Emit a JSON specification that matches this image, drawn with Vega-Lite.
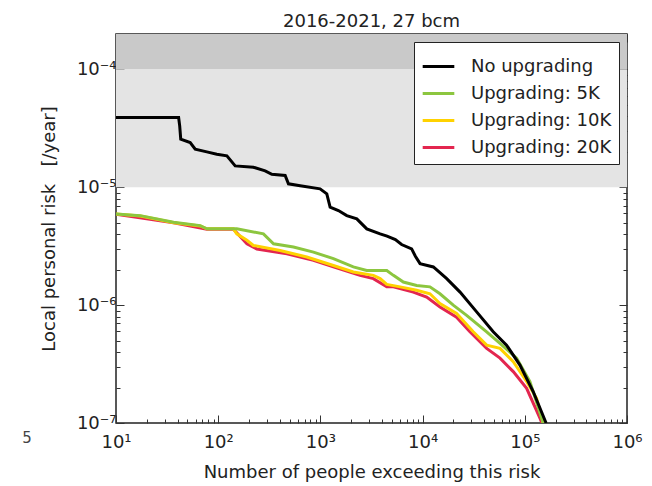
{
  "$schema": "https://vega.github.io/schema/vega-lite/v6.json",
  "width": 511,
  "height": 389,
  "autosize": {"type": "none"},
  "padding": {"left": 116, "top": 34, "right": 25, "bottom": 63},
  "background": "white",
  "title": {"text": "2016-2021, 27 bcm", "fontSize": 18, "font": "DejaVu Sans", "fontWeight": "normal", "color": "#222", "offset": -6, "anchor": "middle"},
  "config": {
    "view": {"stroke": "#222", "strokeWidth": 1.5},
    "font": "DejaVu Sans",
    "axis": {"domain": false, "grid": false, "labelFont": "DejaVu Sans", "labelFontSize": 18, "labelColor": "#222", "titleFont": "DejaVu Sans", "titleFontSize": 18, "titleFontWeight": "normal", "titleColor": "#222", "tickColor": "#333", "tickWidth": 1, "labelOverlap": false, "labelFlush": false, "labelBound": false},
    "legend": {"orient": "top-right", "offset": 8, "fillColor": "white", "strokeColor": "#222", "padding": 7, "symbolType": "stroke", "symbolStrokeWidth": 3, "symbolSize": 1000, "labelFont": "DejaVu Sans", "labelFontSize": 18, "labelColor": "#222", "rowPadding": -3, "labelOffset": 15}
  },
  "datasets": {
    "bands": [
      {"zone": "upper", "low": 1e-4, "high": 2e-4},
      {"zone": "tolerable", "low": 1e-5, "high": 1e-4}
    ],
    "stray": [
      {"label": "5", "people": 1.35, "risk": 7.4e-8}
    ],
    "curves": [
      {"series": "No upgrading", "people": 10, "risk": 3.91e-5},
      {"series": "No upgrading", "people": 41, "risk": 3.91e-5},
      {"series": "No upgrading", "people": 42, "risk": 3.32e-5},
      {"series": "No upgrading", "people": 43, "risk": 2.56e-5},
      {"series": "No upgrading", "people": 53.2, "risk": 2.4e-5},
      {"series": "No upgrading", "people": 59.6, "risk": 2.11e-5},
      {"series": "No upgrading", "people": 77.4, "risk": 2.0e-5},
      {"series": "No upgrading", "people": 97, "risk": 1.91e-5},
      {"series": "No upgrading", "people": 121.6, "risk": 1.85e-5},
      {"series": "No upgrading", "people": 146.6, "risk": 1.52e-5},
      {"series": "No upgrading", "people": 221, "risk": 1.48e-5},
      {"series": "No upgrading", "people": 288, "risk": 1.38e-5},
      {"series": "No upgrading", "people": 335, "risk": 1.29e-5},
      {"series": "No upgrading", "people": 452, "risk": 1.26e-5},
      {"series": "No upgrading", "people": 487, "risk": 1.07e-5},
      {"series": "No upgrading", "people": 634, "risk": 1.03e-5},
      {"series": "No upgrading", "people": 993, "risk": 9.7e-6},
      {"series": "No upgrading", "people": 1155, "risk": 8.8e-6},
      {"series": "No upgrading", "people": 1245, "risk": 6.8e-6},
      {"series": "No upgrading", "people": 1500, "risk": 6.35e-6},
      {"series": "No upgrading", "people": 1811, "risk": 5.75e-6},
      {"series": "No upgrading", "people": 2270, "risk": 5.4e-6},
      {"series": "No upgrading", "people": 2844, "risk": 4.44e-6},
      {"series": "No upgrading", "people": 3840, "risk": 4.03e-6},
      {"series": "No upgrading", "people": 4488, "risk": 3.85e-6},
      {"series": "No upgrading", "people": 5414, "risk": 3.6e-6},
      {"series": "No upgrading", "people": 6227, "risk": 3.27e-6},
      {"series": "No upgrading", "people": 7810, "risk": 3.0e-6},
      {"series": "No upgrading", "people": 8500, "risk": 2.6e-6},
      {"series": "No upgrading", "people": 9440, "risk": 2.25e-6},
      {"series": "No upgrading", "people": 12740, "risk": 2.11e-6},
      {"series": "No upgrading", "people": 17220, "risk": 1.68e-6},
      {"series": "No upgrading", "people": 23250, "risk": 1.29e-6},
      {"series": "No upgrading", "people": 33800, "risk": 8.77e-7},
      {"series": "No upgrading", "people": 49100, "risk": 5.94e-7},
      {"series": "No upgrading", "people": 66300, "risk": 4.58e-7},
      {"series": "No upgrading", "people": 89600, "risk": 3.1e-7},
      {"series": "No upgrading", "people": 120800, "risk": 1.85e-7},
      {"series": "No upgrading", "people": 161500, "risk": 1e-7},

      {"series": "Upgrading: 5K", "people": 10, "risk": 5.94e-6},
      {"series": "Upgrading: 5K", "people": 17.3, "risk": 5.75e-6},
      {"series": "Upgrading: 5K", "people": 25.1, "risk": 5.4e-6},
      {"series": "Upgrading: 5K", "people": 36.6, "risk": 5.06e-6},
      {"series": "Upgrading: 5K", "people": 66.7, "risk": 4.73e-6},
      {"series": "Upgrading: 5K", "people": 77.5, "risk": 4.44e-6},
      {"series": "Upgrading: 5K", "people": 152, "risk": 4.44e-6},
      {"series": "Upgrading: 5K", "people": 277, "risk": 4.03e-6},
      {"series": "Upgrading: 5K", "people": 348, "risk": 3.32e-6},
      {"series": "Upgrading: 5K", "people": 545, "risk": 3.11e-6},
      {"series": "Upgrading: 5K", "people": 855, "risk": 2.82e-6},
      {"series": "Upgrading: 5K", "people": 1340, "risk": 2.48e-6},
      {"series": "Upgrading: 5K", "people": 2100, "risk": 2.11e-6},
      {"series": "Upgrading: 5K", "people": 2840, "risk": 1.97e-6},
      {"series": "Upgrading: 5K", "people": 4460, "risk": 1.97e-6},
      {"series": "Upgrading: 5K", "people": 5180, "risk": 1.79e-6},
      {"series": "Upgrading: 5K", "people": 6480, "risk": 1.57e-6},
      {"series": "Upgrading: 5K", "people": 8750, "risk": 1.47e-6},
      {"series": "Upgrading: 5K", "people": 11800, "risk": 1.43e-6},
      {"series": "Upgrading: 5K", "people": 14790, "risk": 1.25e-6},
      {"series": "Upgrading: 5K", "people": 19950, "risk": 1.0e-6},
      {"series": "Upgrading: 5K", "people": 26970, "risk": 8.2e-7},
      {"series": "Upgrading: 5K", "people": 42350, "risk": 5.94e-7},
      {"series": "Upgrading: 5K", "people": 57200, "risk": 4.73e-7},
      {"series": "Upgrading: 5K", "people": 83200, "risk": 3.55e-7},
      {"series": "Upgrading: 5K", "people": 112200, "risk": 2.25e-7},
      {"series": "Upgrading: 5K", "people": 151400, "risk": 1e-7},

      {"series": "Upgrading: 10K", "people": 10, "risk": 5.94e-6},
      {"series": "Upgrading: 10K", "people": 17.3, "risk": 5.7e-6},
      {"series": "Upgrading: 10K", "people": 25.1, "risk": 5.35e-6},
      {"series": "Upgrading: 10K", "people": 36.6, "risk": 5.0e-6},
      {"series": "Upgrading: 10K", "people": 66.7, "risk": 4.7e-6},
      {"series": "Upgrading: 10K", "people": 77.5, "risk": 4.44e-6},
      {"series": "Upgrading: 10K", "people": 141, "risk": 4.44e-6},
      {"series": "Upgrading: 10K", "people": 152, "risk": 4.03e-6},
      {"series": "Upgrading: 10K", "people": 191, "risk": 3.55e-6},
      {"series": "Upgrading: 10K", "people": 221, "risk": 3.21e-6},
      {"series": "Upgrading: 10K", "people": 403, "risk": 2.91e-6},
      {"series": "Upgrading: 10K", "people": 736, "risk": 2.56e-6},
      {"series": "Upgrading: 10K", "people": 1340, "risk": 2.17e-6},
      {"series": "Upgrading: 10K", "people": 2100, "risk": 1.91e-6},
      {"series": "Upgrading: 10K", "people": 3300, "risk": 1.79e-6},
      {"series": "Upgrading: 10K", "people": 3840, "risk": 1.68e-6},
      {"series": "Upgrading: 10K", "people": 4460, "risk": 1.5e-6},
      {"series": "Upgrading: 10K", "people": 6030, "risk": 1.43e-6},
      {"series": "Upgrading: 10K", "people": 8750, "risk": 1.34e-6},
      {"series": "Upgrading: 10K", "people": 11800, "risk": 1.25e-6},
      {"series": "Upgrading: 10K", "people": 14790, "risk": 1.03e-6},
      {"series": "Upgrading: 10K", "people": 21500, "risk": 8.5e-7},
      {"series": "Upgrading: 10K", "people": 31300, "risk": 5.94e-7},
      {"series": "Upgrading: 10K", "people": 42350, "risk": 4.58e-7},
      {"series": "Upgrading: 10K", "people": 57200, "risk": 4.3e-7},
      {"series": "Upgrading: 10K", "people": 77100, "risk": 3.32e-7},
      {"series": "Upgrading: 10K", "people": 104200, "risk": 2.25e-7},
      {"series": "Upgrading: 10K", "people": 130400, "risk": 1.62e-7},
      {"series": "Upgrading: 10K", "people": 151400, "risk": 1e-7},

      {"series": "Upgrading: 20K", "people": 10, "risk": 5.9e-6},
      {"series": "Upgrading: 20K", "people": 36.6, "risk": 5.0e-6},
      {"series": "Upgrading: 20K", "people": 77.5, "risk": 4.4e-6},
      {"series": "Upgrading: 20K", "people": 141, "risk": 4.4e-6},
      {"series": "Upgrading: 20K", "people": 191, "risk": 3.32e-6},
      {"series": "Upgrading: 20K", "people": 239, "risk": 3.0e-6},
      {"series": "Upgrading: 20K", "people": 470, "risk": 2.73e-6},
      {"series": "Upgrading: 20K", "people": 855, "risk": 2.4e-6},
      {"series": "Upgrading: 20K", "people": 1340, "risk": 2.11e-6},
      {"series": "Upgrading: 20K", "people": 2440, "risk": 1.79e-6},
      {"series": "Upgrading: 20K", "people": 3300, "risk": 1.68e-6},
      {"series": "Upgrading: 20K", "people": 4460, "risk": 1.43e-6},
      {"series": "Upgrading: 20K", "people": 5180, "risk": 1.43e-6},
      {"series": "Upgrading: 20K", "people": 8110, "risk": 1.29e-6},
      {"series": "Upgrading: 20K", "people": 10960, "risk": 1.17e-6},
      {"series": "Upgrading: 20K", "people": 14790, "risk": 9.66e-7},
      {"series": "Upgrading: 20K", "people": 21500, "risk": 7.9e-7},
      {"series": "Upgrading: 20K", "people": 29040, "risk": 5.94e-7},
      {"series": "Upgrading: 20K", "people": 42350, "risk": 4.3e-7},
      {"series": "Upgrading: 20K", "people": 57200, "risk": 3.55e-7},
      {"series": "Upgrading: 20K", "people": 77100, "risk": 2.73e-7},
      {"series": "Upgrading: 20K", "people": 104200, "risk": 1.97e-7},
      {"series": "Upgrading: 20K", "people": 140600, "risk": 1.1e-7},
      {"series": "Upgrading: 20K", "people": 147000, "risk": 1e-7}
    ]
  },
  "resolve": {"axis": {"x": "independent", "y": "independent"}},
  "layer": [
    {
      "data": {"name": "bands"},
      "mark": {"type": "rect"},
      "encoding": {
        "y": {"field": "low", "type": "quantitative", "scale": {"type": "log", "domain": [1e-7, 2e-4]}, "axis": null},
        "y2": {"field": "high"},
        "fill": {"field": "zone", "type": "nominal", "scale": {"domain": ["upper", "tolerable"], "range": ["#c9c9c9", "#e4e4e4"]}, "legend": null}
      }
    },
    {
      "data": {"name": "curves"},
      "transform": [{"filter": "datum.series === 'Upgrading: 20K'"}],
      "mark": {"type": "line", "strokeWidth": 3, "clip": true},
      "encoding": {
        "x": {"field": "people", "type": "quantitative", "scale": {"type": "log", "domain": [10, 1000000]},
          "axis": {"orient": "top", "labels": false, "title": null,
            "values": [10,20,30,40,50,60,70,80,90,100,200,300,400,500,600,700,800,900,1000,2000,3000,4000,5000,6000,7000,8000,9000,10000,20000,30000,40000,50000,60000,70000,80000,90000,100000,200000,300000,400000,500000,600000,700000,800000,900000,1000000],
            "tickSize": {"condition": {"test": "indexof([10,100,1000,10000,100000,1000000], datum.value) >= 0", "value": -8}, "value": -4}}},
        "y": {"field": "risk", "type": "quantitative", "scale": {"type": "log", "domain": [1e-7, 2e-4]},
          "axis": {"orient": "right", "labels": false, "title": null,
            "values": [1e-7,2e-7,3e-7,4e-7,5e-7,6e-7,7e-7,8e-7,9e-7,1e-6,2e-6,3e-6,4e-6,5e-6,6e-6,7e-6,8e-6,9e-6,1e-5,2e-5,3e-5,4e-5,5e-5,6e-5,7e-5,8e-5,9e-5,1e-4,2e-4],
            "tickSize": {"condition": {"test": "abs(log(datum.value)/LN10 - round(log(datum.value)/LN10)) < 0.001", "value": -8}, "value": -4}}},
        "color": {"field": "series", "type": "nominal", "title": null, "scale": {"domain": ["No upgrading", "Upgrading: 5K", "Upgrading: 10K", "Upgrading: 20K"], "range": ["#000000", "#8cc63f", "#ffd200", "#e3264f"]}}
      }
    },
    {
      "data": {"name": "curves"},
      "transform": [{"filter": "datum.series === 'Upgrading: 10K'"}],
      "mark": {"type": "line", "strokeWidth": 3, "clip": true},
      "encoding": {
        "x": {"field": "people", "type": "quantitative", "scale": {"type": "log", "domain": [10, 1000000]}, "axis": null},
        "y": {"field": "risk", "type": "quantitative", "scale": {"type": "log", "domain": [1e-7, 2e-4]}, "axis": null},
        "color": {"field": "series", "type": "nominal", "title": null, "scale": {"domain": ["No upgrading", "Upgrading: 5K", "Upgrading: 10K", "Upgrading: 20K"], "range": ["#000000", "#8cc63f", "#ffd200", "#e3264f"]}}
      }
    },
    {
      "data": {"name": "curves"},
      "transform": [{"filter": "datum.series === 'Upgrading: 5K'"}],
      "mark": {"type": "line", "strokeWidth": 3, "clip": true},
      "encoding": {
        "x": {"field": "people", "type": "quantitative", "scale": {"type": "log", "domain": [10, 1000000]}, "axis": null},
        "y": {"field": "risk", "type": "quantitative", "scale": {"type": "log", "domain": [1e-7, 2e-4]}, "axis": null},
        "color": {"field": "series", "type": "nominal", "title": null, "scale": {"domain": ["No upgrading", "Upgrading: 5K", "Upgrading: 10K", "Upgrading: 20K"], "range": ["#000000", "#8cc63f", "#ffd200", "#e3264f"]}}
      }
    },
    {
      "data": {"name": "curves"},
      "transform": [{"filter": "datum.series === 'No upgrading'"}],
      "mark": {"type": "line", "strokeWidth": 3, "clip": true},
      "encoding": {
        "x": {"field": "people", "type": "quantitative", "scale": {"type": "log", "domain": [10, 1000000]},
          "axis": {"orient": "bottom", "title": "Number of people exceeding this risk", "titlePadding": 8, "labelPadding": 18,
            "values": [10,20,30,40,50,60,70,80,90,100,200,300,400,500,600,700,800,900,1000,2000,3000,4000,5000,6000,7000,8000,9000,10000,20000,30000,40000,50000,60000,70000,80000,90000,100000,200000,300000,400000,500000,600000,700000,800000,900000,1000000],
            "labelExpr": "datum.value == 10 ? '10¹' : datum.value == 100 ? '10²' : datum.value == 1000 ? '10³' : datum.value == 10000 ? '10⁴' : datum.value == 100000 ? '10⁵' : datum.value == 1000000 ? '10⁶' : ''",
            "tickSize": {"condition": {"test": "indexof([10,100,1000,10000,100000,1000000], datum.value) >= 0", "value": -8}, "value": -4}}},
        "y": {"field": "risk", "type": "quantitative", "scale": {"type": "log", "domain": [1e-7, 2e-4]},
          "axis": {"orient": "left", "title": "Local personal risk\u00a0\u00a0\u00a0[/year]", "titlePadding": 18, "labelPadding": 8,
            "values": [1e-7,2e-7,3e-7,4e-7,5e-7,6e-7,7e-7,8e-7,9e-7,1e-6,2e-6,3e-6,4e-6,5e-6,6e-6,7e-6,8e-6,9e-6,1e-5,2e-5,3e-5,4e-5,5e-5,6e-5,7e-5,8e-5,9e-5,1e-4,2e-4],
            "labelExpr": "abs(log(datum.value)/LN10 - round(log(datum.value)/LN10)) < 0.001 ? (round(log(datum.value)/LN10) == -7 ? '10⁻⁷' : round(log(datum.value)/LN10) == -6 ? '10⁻⁶' : round(log(datum.value)/LN10) == -5 ? '10⁻⁵' : '10⁻⁴') : ''",
            "tickSize": {"condition": {"test": "abs(log(datum.value)/LN10 - round(log(datum.value)/LN10)) < 0.001", "value": -8}, "value": -4}}},
        "color": {"field": "series", "type": "nominal", "title": null, "scale": {"domain": ["No upgrading", "Upgrading: 5K", "Upgrading: 10K", "Upgrading: 20K"], "range": ["#000000", "#8cc63f", "#ffd200", "#e3264f"]}}
      }
    },
    {
      "data": {"name": "stray"},
      "mark": {"type": "text", "clip": false, "font": "DejaVu Sans", "fontSize": 15, "color": "#444", "align": "center", "baseline": "middle"},
      "encoding": {
        "x": {"field": "people", "type": "quantitative", "scale": {"type": "log", "domain": [10, 1000000]}, "axis": null},
        "y": {"field": "risk", "type": "quantitative", "scale": {"type": "log", "domain": [1e-7, 2e-4]}, "axis": null},
        "text": {"field": "label"}
      }
    }
  ]
}
